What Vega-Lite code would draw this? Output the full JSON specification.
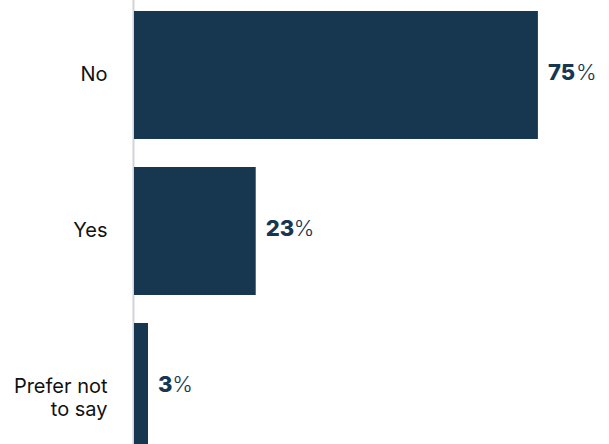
{
  "$schema": "https://vega.github.io/schema/vega-lite/v6.json",
  "width": 475,
  "height": 468,
  "autosize": {"type": "none"},
  "padding": {"left": 134, "top": -3, "right": 0, "bottom": 0},
  "background": "white",
  "config": {"view": {"stroke": null}, "font": "Inter"},
  "data": {
    "values": [
      {"response": "No", "value": 75},
      {"response": "Yes", "value": 22.6},
      {"response": "Prefer not to say", "value": 2.6}
    ]
  },
  "transform": [
    {"calculate": "format(datum.value, '.0f')", "as": "num"}
  ],
  "encoding": {
    "y": {
      "field": "response",
      "type": "nominal",
      "sort": null,
      "scale": {"paddingInner": 0.1795, "paddingOuter": 0.0897},
      "axis": {
        "title": null,
        "domain": true,
        "domainColor": "#cfd3da",
        "domainWidth": 2,
        "offset": 1,
        "ticks": false,
        "labelPadding": 26,
        "labelFontSize": 20,
        "labelFontWeight": 400,
        "labelColor": "#111111",
        "labelFont": "Inter",
        "labelLineHeight": 23,
        "labelExpr": "datum.label == 'Prefer not to say' ? ['Prefer not', 'to say'] : datum.label"
      }
    },
    "x": {
      "field": "value",
      "type": "quantitative",
      "scale": {"domain": [0, 88.2]},
      "axis": null
    }
  },
  "layer": [
    {"mark": {"type": "bar", "color": "#17364f"}},
    {
      "mark": {"type": "text", "align": "left", "baseline": "middle", "dx": 10, "dy": -2, "fontWeight": 800, "fontSize": 22, "color": "#17364f", "font": "Inter"},
      "encoding": {"text": {"field": "num"}}
    },
    {
      "mark": {"type": "text", "align": "left", "baseline": "middle", "dx": {"expr": "10.5 + 13.8 * length(format(datum.value, '.0f'))"}, "dy": -2, "fontWeight": 300, "fontSize": 22, "color": "#17364f", "font": "Inter"},
      "encoding": {
        "text": {"value": "%"}
      }
    }
  ]
}
